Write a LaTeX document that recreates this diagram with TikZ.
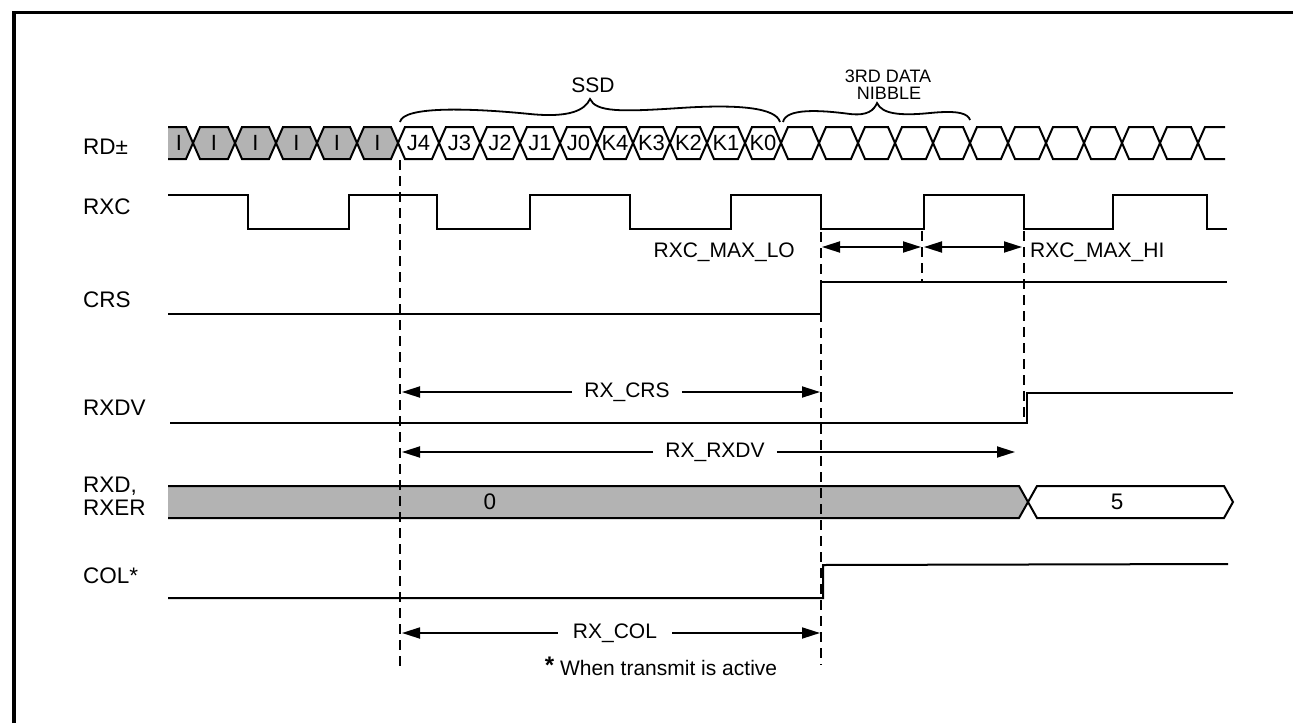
\documentclass[tikz,border=0pt]{standalone}
\usepackage{fontspec}
\setmainfont{Liberation Sans}
\usetikzlibrary{arrows.meta}
\definecolor{busgray}{RGB}{179,179,179}
\begin{document}
\begin{tikzpicture}[x=1pt,y=-1pt,
  sig/.style={line width=2pt, line join=miter},
  dsh/.style={line width=1.8pt, dash pattern=on 10pt off 6pt},
  dim/.style={line width=1.8pt, -{Triangle[length=18pt,width=11pt]}},
  dimboth/.style={line width=1.8pt, {Triangle[length=18pt,width=11pt]}-{Triangle[length=18pt,width=11pt]}},
  lbl/.style={font=\fontsize{21}{25}\selectfont, inner sep=0pt},
  namelbl/.style={font=\fontsize{22.5}{26}\selectfont, inner sep=0pt, anchor=west},
  hexlbl/.style={font=\fontsize{22}{26}\selectfont, inner sep=0pt},
  buslbl/.style={font=\fontsize{22.5}{26}\selectfont, inner sep=0pt},
  smalllbl/.style={font=\fontsize{18}{21}\selectfont, inner sep=0pt},
  brc/.style={line width=1.8pt}]
\useasboundingbox (0,0) rectangle (1293,723);
% frame
\draw[line width=3.6pt] (14,723) -- (14,12.5) -- (1293,12.5);

% ---------- signal names
\node[namelbl] (nRD) at (83,147) {RD±};
\node[namelbl] (nRXC) at (83,207) {RXC};
\node[namelbl] (nCRS) at (83,300) {CRS};
\node[namelbl] (nRXDV) at (83,408) {RXDV};
\node[namelbl] (nRXD) at (83,486) {RXD,};
\node[namelbl] (nRXER) at (83,508) {RXER};
\node[namelbl] (nCOL) at (83,576) {COL*};

% ---------- RD bus
\fill[busgray] (168,127) -- (186,127) -- (193,143) -- (186,159) -- (168,159) -- cycle;
\draw[sig] (168,127) -- (186,127) -- (193,143) -- (186,159) -- (168,159);
\node[hexlbl] (rdI0) at (179,143) {I};
\foreach \a/\b/\t [count=\i] in {193/235/I,235/276/I,276/317/I,317/357/I,357/398/I}{
  \draw[sig, fill=busgray] (\a,143) -- (\a+7,127) -- (\b-7,127) -- (\b,143) -- (\b-7,159) -- (\a+7,159) -- cycle;
  \node[hexlbl] (rdI\i) at ({(\a+\b)/2},143) {\t};
}
\foreach \a/\b/\t [count=\i] in {398/439/J4,439/480/J3,480/520/J2,520/560/J1,560/597/J0,597/633/K4,633/670/K3,670/707/K2,707/745/K1,745/781/K0}{
  \draw[sig] (\a,143) -- (\a+7,127) -- (\b-7,127) -- (\b,143) -- (\b-7,159) -- (\a+7,159) -- cycle;
  \node[hexlbl] (rdS\i) at ({(\a+\b)/2},143) {\t};
}
\foreach \a/\b in {781/819,819/858,858/895,895/933,933/970,970/1008,1008/1046,1046/1084,1084/1122,1122/1160,1160/1198}{
  \draw[sig] (\a,143) -- (\a+7,127) -- (\b-7,127) -- (\b,143) -- (\b-7,159) -- (\a+7,159) -- cycle;
}
\draw[sig] (1225,127) -- (1205,127) -- (1198,143) -- (1205,159) -- (1225,159);

% braces
\draw[brc] (400,122) .. controls (403,106) and (470,108) .. (530,114)
  .. controls (570,118) and (585,110) .. (590,99)
  .. controls (596,112) and (620,112) .. (680,108)
  .. controls (740,104) and (776,108) .. (780,122);
\node[lbl] (ssd) at (593,85) {SSD};
\draw[brc] (783,122) .. controls (786,108) and (820,110) .. (850,114)
  .. controls (868,116) and (874,110) .. (877,103)
  .. controls (882,114) and (900,116) .. (930,113)
  .. controls (960,110) and (968,114) .. (970,120);
\node[smalllbl] (nib1) at (888,76.5) {3RD DATA};
\node[smalllbl] (nib2) at (889,93) {NIBBLE};

% ---------- RXC
\draw[sig] (168,195) -- (248,195) -- (248,229) -- (349,229) -- (349,195) -- (437,195) -- (437,229)
  -- (530,229) -- (530,195) -- (630,195) -- (630,229) -- (731,229) -- (731,195) -- (821,195)
  -- (821,229) -- (924,229) -- (924,195) -- (1024,195) -- (1024,229) -- (1113,229) -- (1113,195)
  -- (1207,195) -- (1207,229) -- (1227,229);

% ---------- CRS
\draw[sig] (168,314) -- (821,314) -- (821,282) -- (1227,282);

% ---------- RXDV
\draw[sig] (170,423) -- (1027,423) -- (1027,393) -- (1233,393);

% ---------- RXD / RXER bus
\fill[busgray] (168,486) -- (1019,486) -- (1028,502) -- (1019,518) -- (168,518) -- cycle;
\draw[sig] (168,486) -- (1019,486) -- (1028,502) -- (1019,518) -- (168,518);
\draw[sig] (1028,502) -- (1037,486) -- (1224,486) -- (1233,502) -- (1224,518) -- (1037,518) -- cycle;
\node[buslbl] (v0) at (490,502) {0};
\node[buslbl] (v5) at (1117,502) {5};

% ---------- COL
\draw[sig] (168,598) -- (823,598) -- (823,565) -- (1228,564);

% ---------- dashed guides
\draw[dsh] (400,160) -- (400,672);
\draw[dsh] (821,232) -- (821,665);
\draw[dsh] (922,231) -- (922,281);
\draw[dsh] (1024,231) -- (1024,420);

% ---------- RXC max arrows
\coordinate (m1) at (822,247);
\coordinate (m2) at (921,247);
\coordinate (m3) at (924,247);
\coordinate (m4) at (1022,247);
\draw[dimboth] (m1) -- (m2);
\draw[dimboth] (m3) -- (m4);
\node[lbl, anchor=east] (maxlo) at (795,252) {RXC\_MAX\_LO};
\node[lbl, anchor=west] (maxhi) at (1030,252) {RXC\_MAX\_HI};

% ---------- RX_CRS
\node[lbl] (rxcrs) at (627,392) {RX\_CRS};
\coordinate (crsL) at (402,392);
\coordinate (crsR) at (820,392);
\draw[dim] ([xshift=-12pt]rxcrs.west) -- (crsL);
\draw[dim] ([xshift=12pt]rxcrs.east) -- (crsR);

% ---------- RX_RXDV
\node[lbl] (rxrxdv) at (715,452) {RX\_RXDV};
\coordinate (dvL) at (402,452);
\coordinate (dvR) at (1015,452);
\draw[dim] ([xshift=-12pt]rxrxdv.west) -- (dvL);
\draw[dim] ([xshift=12pt]rxrxdv.east) -- (dvR);

% ---------- RX_COL
\node[lbl] (rxcol) at (615,633) {RX\_COL};
\coordinate (colL) at (402,633);
\coordinate (colR) at (820,633);
\draw[dim] ([xshift=-15pt]rxcol.west) -- (colL);
\draw[dim] ([xshift=15pt]rxcol.east) -- (colR);

\node[lbl] (note) at (661,666) {\raisebox{2pt}{\fontsize{24}{26}\selectfont\textbf{*}} When transmit is active};
\end{tikzpicture}
\end{document}
